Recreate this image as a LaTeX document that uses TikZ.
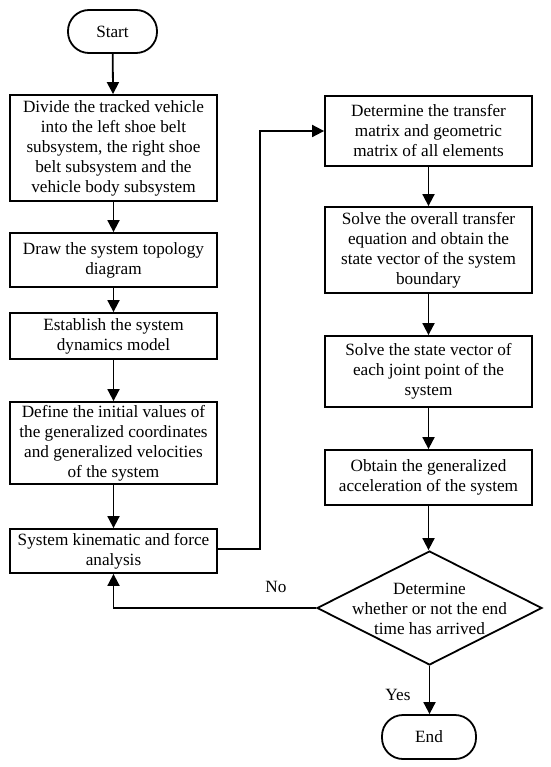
\documentclass[tikz,border=0pt]{standalone}
\usepackage{fontspec}
\setmainfont{Liberation Serif}
\usetikzlibrary{arrows.meta,shapes.geometric,calc}
\begin{document}
\begin{tikzpicture}[x=1pt,y=-1pt,
  every node/.style={font=\fontsize{17.2}{20}\selectfont},
  box/.style={draw,line width=1.8pt,minimum width=207pt,inner sep=0pt,align=center},
  term/.style={draw,line width=1.8pt,rounded corners=21pt,inner sep=0pt,align=center},
  arr/.style={line width=1.8pt,-{Triangle[length=12pt,width=12pt]}}]
\useasboundingbox (0,0) rectangle (550,767);
\node[term,minimum width=89pt,minimum height=43pt] (start) at (112.5,31.5) {Start};
\node[box,minimum height=106pt] (b1) at (113.5,148) {Divide the tracked vehicle\\into the left shoe belt\\subsystem, the right shoe\\belt subsystem and the\\vehicle body subsystem};
\node[box,minimum height=54pt] (b2) at (113.5,260) {Draw the system topology\\diagram};
\node[box,minimum height=46pt] (b3) at (113.5,336) {Establish the system\\dynamics model};
\node[box,minimum height=82pt] (b4) at (113.5,443) {Define the initial values of\\the generalized coordinates\\and generalized velocities\\of the system};
\node[box,minimum height=44pt] (b5) at (113.5,551) {System kinematic and force\\analysis};
\node[box,minimum height=70pt] (r1) at (428.5,131) {Determine the transfer\\matrix and geometric\\matrix of all elements};
\node[box,minimum height=86pt] (r2) at (428.5,250) {Solve the overall transfer\\equation and obtain the\\state vector of the system\\boundary};
\node[box,minimum height=71pt] (r3) at (428.5,371.5) {Solve the state vector of\\each joint point of the\\system};
\node[box,minimum height=55pt] (r4) at (428.5,477.5) {Obtain the generalized\\acceleration of the system};
\node[diamond,draw,line width=1.8pt,minimum width=225pt,minimum height=114pt,inner sep=0pt] (dec) at (429.5,608) {};
\node[align=center,inner sep=0pt] (dect) at (429.5,609) {Determine\\whether or not the end\\time has arrived};
\node[term,minimum width=94pt,minimum height=44pt] (end) at (429,737) {End};
\node (no) at (276,587) {No};
\node (yes) at (398,695) {Yes};
\draw[arr] (start) -- (b1);
\draw[arr] (b1) -- (b2);
\draw[arr] (b2) -- (b3);
\draw[arr] (b3) -- (b4);
\draw[arr] (b4) -- (b5);
\coordinate (turn) at (260,549);
\draw[arr] (b5.east |- turn) -- (turn) |- (r1.west);
\draw[arr] (r1) -- (r2);
\draw[arr] (r2) -- (r3);
\draw[arr] (r3) -- (r4);
\draw[arr] (r4.south) -- (r4.south |- dec.north);
\draw[arr] (dec.south) -- (dec.south |- end.north);
\draw[arr] (dec.west) -| (b5.south);
\end{tikzpicture}
\end{document}
